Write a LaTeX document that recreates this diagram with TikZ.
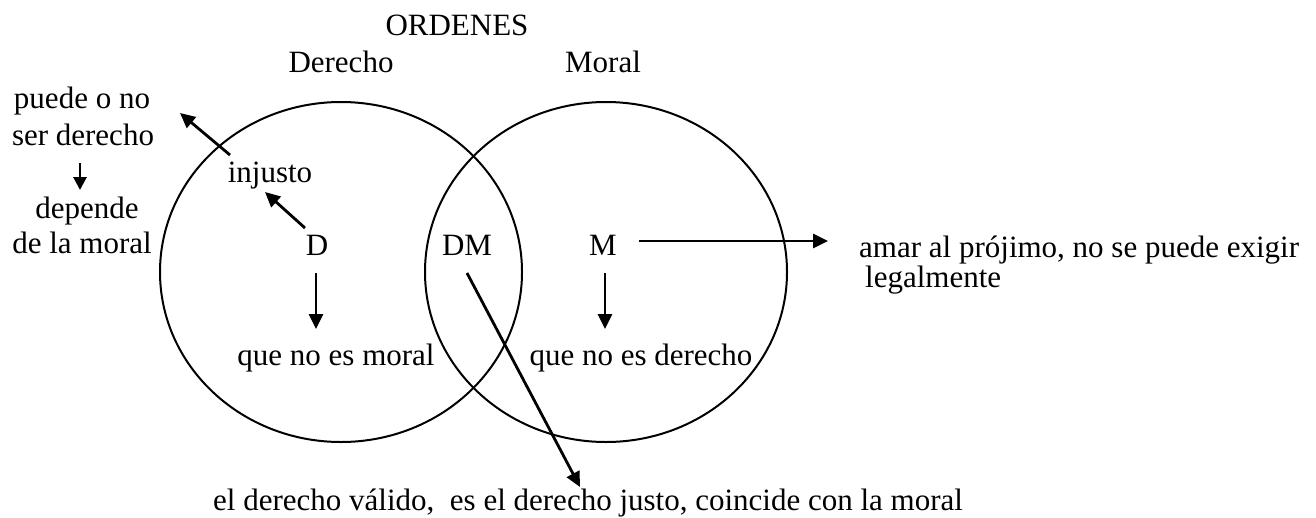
\documentclass[tikz,border=0pt]{standalone}
\usepackage{fontspec}
\setmainfont{Liberation Serif}
\usetikzlibrary{arrows.meta}
\tikzset{
  lbl/.style={inner sep=0pt, anchor=base, font=\fontsize{31}{37}\selectfont},
  lblw/.style={inner sep=0pt, anchor=base west, font=\fontsize{31}{37}\selectfont},
  ring/.style={draw=black, line width=2pt},
  arr/.style={draw=black, line width=2.8pt, -{Triangle[length=15pt,width=14pt]}},
  arrs/.style={draw=black, line width=2.8pt, -{Triangle[length=13pt,width=13pt]}}
}
\begin{document}
\begin{tikzpicture}[x=1pt,y=-1pt]
\useasboundingbox (0,0) rectangle (1316,517);
% circles
\draw[ring] (341,272) ellipse [x radius=181, y radius=170];
\draw[ring] (606,272) ellipse [x radius=181, y radius=170];
% titles
\node[lbl] (ord) at (457,35) {ORDENES};
\node[lbl] (der) at (341,72) {Derecho};
\node[lbl] (mor) at (603,72) {Moral};
% left texts
\node[lbl] (p1) at (82,108) {puede o no};
\node[lbl] (p2) at (83,145) {ser derecho};
\node[lbl] (p3) at (87,218) {depende};
\node[lbl] (p4) at (82,253) {de la moral};
\node[lbl] (inj) at (270,182) {injusto};
% main letters
\node[lbl] (D) at (317,255) {D};
\node[lbl] (DM) at (467,255) {DM};
\node[lbl] (M) at (603,255) {M};
\node[lbl] (qnm) at (336,365) {que no es moral};
\node[lbl] (qnd) at (641,365) {que no es derecho};
\node[lblw] (amar) at (859,257) {amar al prójimo, no se puede exigir};
\node[lblw] (leg) at (865,287) {legalmente};
\node[lblw] (bot) at (213,510) {el derecho válido,\ \ es el derecho justo, coincide con la moral};
% arrow end points
\coordinate (injT) at (230,155);
\coordinate (injH) at (180,113);
\coordinate (dT) at (305,228);
\coordinate (dH) at (265,192);
\coordinate (pT) at (80,163);
\coordinate (pH) at (80,190);
\coordinate (dDT) at (316,273);
\coordinate (dDH) at (316,329);
\coordinate (mDT) at (605,273);
\coordinate (mDH) at (605,329);
\coordinate (mRT) at (639,241);
\coordinate (mRH) at (828,241);
\coordinate (dmT) at (467,273);
\coordinate (dmH) at (580,487);
% arrows
\draw[arr] (injT) -- (injH);
\draw[arr] (dT) -- (dH);
\draw[arrs] (pT) -- (pH);
\draw[arr] (dDT) -- (dDH);
\draw[arr] (mDT) -- (mDH);
\draw[arr] (mRT) -- (mRH);
\draw[arr] (dmT) -- (dmH);
\end{tikzpicture}
\end{document}
